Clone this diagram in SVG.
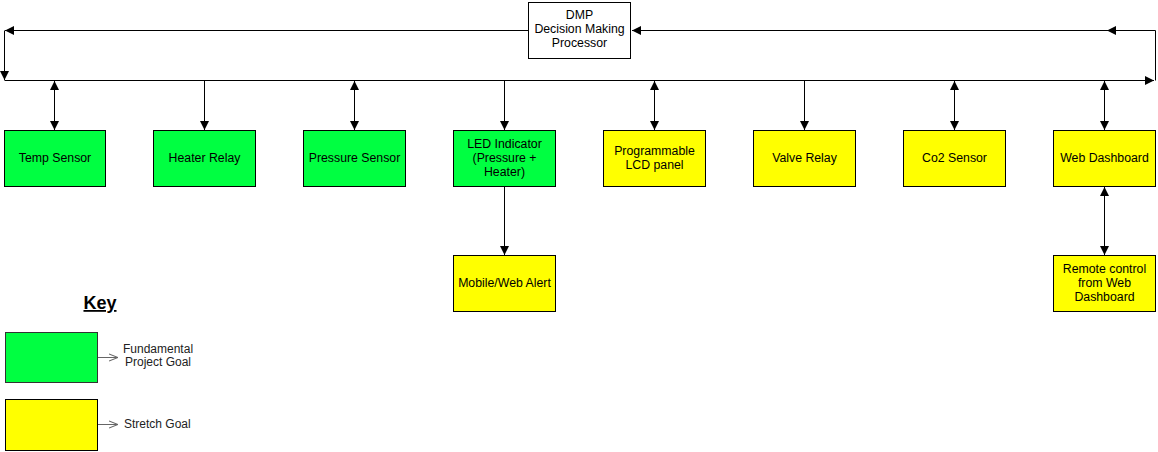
<svg xmlns="http://www.w3.org/2000/svg" width="1158" height="452" viewBox="0 0 1158 452">
<style>
text{font-family:"Liberation Sans",Arial,sans-serif;font-size:12.3px;fill:#000;text-anchor:middle}
.node rect{stroke:#000;stroke-width:1}
.g{fill:#00FF41}
.y{fill:#FFFF00}
.w{fill:#fff;stroke:#555}
.c{stroke:#000;stroke-width:1;fill:none}
.k{stroke:#666;stroke-width:1;fill:none}
.kt{font-size:12px;fill:#222;text-anchor:start}
</style>
<defs>
<marker id="ah" viewBox="0 0 10 10" refX="10" refY="5" markerWidth="9" markerHeight="9" markerUnits="userSpaceOnUse" orient="auto-start-reverse">
<path d="M0,0 L10,5 L0,10 z" fill="#000"/>
</marker>
<marker id="oa" viewBox="0 0 10 10" refX="10" refY="5" markerWidth="9" markerHeight="9" markerUnits="userSpaceOnUse" orient="auto">
<path d="M0,1 L10,5 L0,9" fill="none" stroke="#666" stroke-width="1.2"/>
</marker>
</defs>
<g id="connectors">
<path class="c" d="M528.5,30.5 H5" marker-end="url(#ah)"/>
<path class="c" d="M4.5,30.5 V80" marker-end="url(#ah)"/>
<path class="c" d="M4.5,80.5 H1154" marker-end="url(#ah)"/>
<path class="c" d="M1155.5,80.5 V30.5 H1107" marker-end="url(#ah)"/>
<path class="c" d="M1107,30.5 H632" marker-end="url(#ah)"/>
<path class="c" d="M54.5,81 V130" marker-start="url(#ah)" marker-end="url(#ah)"/>
<path class="c" d="M204.5,81 V130" marker-end="url(#ah)"/>
<path class="c" d="M354.5,81 V130" marker-start="url(#ah)" marker-end="url(#ah)"/>
<path class="c" d="M504.5,81 V130" marker-end="url(#ah)"/>
<path class="c" d="M654.5,81 V130" marker-start="url(#ah)" marker-end="url(#ah)"/>
<path class="c" d="M804.5,81 V130" marker-end="url(#ah)"/>
<path class="c" d="M954.5,81 V130" marker-start="url(#ah)" marker-end="url(#ah)"/>
<path class="c" d="M1104.5,81 V130" marker-start="url(#ah)" marker-end="url(#ah)"/>
<path class="c" d="M504.5,187 V255" marker-end="url(#ah)"/>
<path class="c" d="M1104.5,187 V255" marker-start="url(#ah)" marker-end="url(#ah)"/>
<path class="k" d="M98,357.5 H118" marker-end="url(#oa)"/>
<path class="k" d="M98,424.5 H118" marker-end="url(#oa)"/>
</g>
<g id="dmp" class="node"><rect class="w" x="528.5" y="2.5" width="102" height="56"/><text x="579.5" y="19">DMP</text><text x="579.5" y="33">Decision Making</text><text x="579.5" y="47">Processor</text></g>
<g id="temp-sensor" class="node"><rect class="g" x="4.5" y="130.5" width="101" height="56"/><text x="55" y="162">Temp Sensor</text></g>
<g id="heater-relay" class="node"><rect class="g" x="153.5" y="130.5" width="102" height="56"/><text x="204.5" y="162">Heater Relay</text></g>
<g id="pressure-sensor" class="node"><rect class="g" x="303.5" y="130.5" width="102" height="56"/><text x="354.5" y="162">Pressure Sensor</text></g>
<g id="led-indicator" class="node"><rect class="g" x="453.5" y="130.5" width="102" height="56"/><text x="504.5" y="148">LED Indicator</text><text x="504.5" y="162">(Pressure +</text><text x="504.5" y="176">Heater)</text></g>
<g id="lcd-panel" class="node"><rect class="y" x="603.5" y="130.5" width="102" height="56"/><text x="654.5" y="155">Programmable</text><text x="654.5" y="169">LCD panel</text></g>
<g id="valve-relay" class="node"><rect class="y" x="753.5" y="130.5" width="102" height="56"/><text x="804.5" y="162">Valve Relay</text></g>
<g id="co2-sensor" class="node"><rect class="y" x="903.5" y="130.5" width="102" height="56"/><text x="954.5" y="162">Co2 Sensor</text></g>
<g id="web-dashboard" class="node"><rect class="y" x="1053.5" y="130.5" width="102" height="56"/><text x="1104.5" y="162">Web Dashboard</text></g>
<g id="mobile-alert" class="node"><rect class="y" x="453.5" y="255.5" width="102" height="56"/><text x="504.5" y="287">Mobile/Web Alert</text></g>
<g id="remote-control" class="node"><rect class="y" x="1053.5" y="255.5" width="102" height="56"/><text x="1104.5" y="273">Remote control</text><text x="1104.5" y="287">from Web</text><text x="1104.5" y="301">Dashboard</text></g>
<g id="key">
<text x="100" y="309" style="font-size:18px;font-weight:bold;text-decoration:underline">Key</text>
<rect x="5.5" y="332.5" width="92" height="50" fill="#00FF41" stroke="#333"/>
<rect x="5.5" y="399.5" width="92" height="51" fill="#FFFF00" stroke="#000"/>
<text class="kt" x="123" y="353">Fundamental</text>
<text class="kt" x="125" y="366">Project Goal</text>
<text class="kt" x="124" y="428">Stretch Goal</text>
</g>
</svg>
